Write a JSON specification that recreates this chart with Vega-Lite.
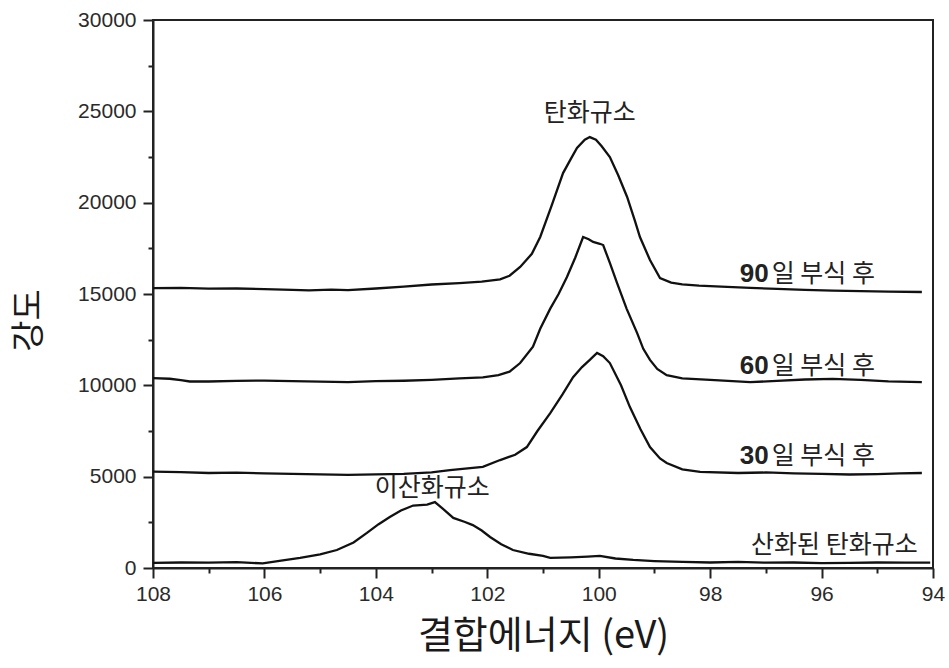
{
  "$schema": "https://vega.github.io/schema/vega-lite/v6.json",
  "width": 780,
  "height": 548,
  "padding": {"left": 153, "top": 20, "right": 16, "bottom": 100},
  "autosize": {"type": "none"},
  "background": "white",
  "config": {
    "view": {"stroke": "#222", "strokeWidth": 2},
    "axis": {
      "domainColor": "#222", "domainWidth": 2, "tickColor": "#222", "tickWidth": 2,
      "labelFont": "Liberation Sans", "labelFontSize": 21, "labelColor": "#2a2a2a",
      "grid": false, "titleFont": "Noto Sans CJK KR", "titleFontWeight": "normal", "titleColor": "#1a1a1a",
      "labelFlush": false, "labelOverlap": false, "labelBound": false
    }
  },
  "datasets": {
    "spectra": [
      {"s":"90","E":108.0,"I":15320},{"s":"90","E":107.5,"I":15330},{"s":"90","E":107.0,"I":15290},{"s":"90","E":106.5,"I":15300},{"s":"90","E":106.0,"I":15270},{"s":"90","E":105.5,"I":15230},{"s":"90","E":105.2,"I":15200},{"s":"90","E":104.8,"I":15240},{"s":"90","E":104.5,"I":15210},{"s":"90","E":104.0,"I":15300},{"s":"90","E":103.5,"I":15400},{"s":"90","E":103.0,"I":15520},{"s":"90","E":102.5,"I":15600},{"s":"90","E":102.1,"I":15680},{"s":"90","E":101.77,"I":15800},{"s":"90","E":101.6,"I":16000},{"s":"90","E":101.41,"I":16480},{"s":"90","E":101.2,"I":17200},{"s":"90","E":101.05,"I":18120},{"s":"90","E":100.85,"I":19800},{"s":"90","E":100.64,"I":21620},{"s":"90","E":100.5,"I":22400},{"s":"90","E":100.39,"I":22990},{"s":"90","E":100.25,"I":23450},{"s":"90","E":100.16,"I":23590},{"s":"90","E":100.05,"I":23450},{"s":"90","E":99.95,"I":23100},{"s":"90","E":99.8,"I":22500},{"s":"90","E":99.65,"I":21500},{"s":"90","E":99.49,"I":20310},{"s":"90","E":99.35,"I":19000},{"s":"90","E":99.26,"I":18120},{"s":"90","E":99.08,"I":16860},{"s":"90","E":98.9,"I":15870},{"s":"90","E":98.7,"I":15620},{"s":"90","E":98.5,"I":15530},{"s":"90","E":98.2,"I":15460},{"s":"90","E":97.8,"I":15400},{"s":"90","E":97.28,"I":15330},{"s":"90","E":96.8,"I":15280},{"s":"90","E":96.3,"I":15230},{"s":"90","E":95.8,"I":15190},{"s":"90","E":95.3,"I":15160},{"s":"90","E":94.8,"I":15130},{"s":"90","E":94.2,"I":15110},
      {"s":"60","E":108.0,"I":10400},{"s":"60","E":107.7,"I":10360},{"s":"60","E":107.5,"I":10280},{"s":"60","E":107.34,"I":10210},{"s":"60","E":107.0,"I":10210},{"s":"60","E":106.5,"I":10240},{"s":"60","E":106.0,"I":10260},{"s":"60","E":105.5,"I":10230},{"s":"60","E":105.0,"I":10200},{"s":"60","E":104.5,"I":10180},{"s":"60","E":104.0,"I":10230},{"s":"60","E":103.5,"I":10250},{"s":"60","E":103.0,"I":10300},{"s":"60","E":102.5,"I":10380},{"s":"60","E":102.08,"I":10440},{"s":"60","E":101.8,"I":10560},{"s":"60","E":101.6,"I":10750},{"s":"60","E":101.41,"I":11220},{"s":"60","E":101.18,"I":12110},{"s":"60","E":101.05,"I":13100},{"s":"60","E":100.87,"I":14200},{"s":"60","E":100.72,"I":15000},{"s":"60","E":100.57,"I":15930},{"s":"60","E":100.42,"I":17000},{"s":"60","E":100.28,"I":18120},{"s":"60","E":100.18,"I":18000},{"s":"60","E":100.1,"I":17850},{"s":"60","E":99.98,"I":17750},{"s":"60","E":99.92,"I":17680},{"s":"60","E":99.8,"I":16700},{"s":"60","E":99.67,"I":15600},{"s":"60","E":99.5,"I":14200},{"s":"60","E":99.31,"I":12860},{"s":"60","E":99.2,"I":12000},{"s":"60","E":99.08,"I":11390},{"s":"60","E":98.95,"I":10900},{"s":"60","E":98.78,"I":10560},{"s":"60","E":98.5,"I":10380},{"s":"60","E":98.0,"I":10300},{"s":"60","E":97.28,"I":10180},{"s":"60","E":96.8,"I":10240},{"s":"60","E":96.3,"I":10320},{"s":"60","E":95.8,"I":10350},{"s":"60","E":95.3,"I":10300},{"s":"60","E":94.8,"I":10220},{"s":"60","E":94.2,"I":10180},
      {"s":"30","E":108.0,"I":5280},{"s":"30","E":107.5,"I":5250},{"s":"30","E":107.0,"I":5200},{"s":"30","E":106.5,"I":5220},{"s":"30","E":106.0,"I":5180},{"s":"30","E":105.5,"I":5150},{"s":"30","E":105.0,"I":5120},{"s":"30","E":104.5,"I":5100},{"s":"30","E":104.0,"I":5120},{"s":"30","E":103.5,"I":5150},{"s":"30","E":103.0,"I":5230},{"s":"30","E":102.67,"I":5360},{"s":"30","E":102.08,"I":5540},{"s":"30","E":101.77,"I":5910},{"s":"30","E":101.5,"I":6200},{"s":"30","E":101.29,"I":6620},{"s":"30","E":101.1,"I":7500},{"s":"30","E":100.87,"I":8480},{"s":"30","E":100.65,"I":9500},{"s":"30","E":100.46,"I":10450},{"s":"30","E":100.3,"I":11000},{"s":"30","E":100.16,"I":11390},{"s":"30","E":100.03,"I":11770},{"s":"30","E":99.92,"I":11600},{"s":"30","E":99.8,"I":11220},{"s":"30","E":99.6,"I":10000},{"s":"30","E":99.44,"I":8810},{"s":"30","E":99.25,"I":7600},{"s":"30","E":99.08,"I":6620},{"s":"30","E":98.9,"I":6000},{"s":"30","E":98.78,"I":5750},{"s":"30","E":98.5,"I":5400},{"s":"30","E":98.18,"I":5260},{"s":"30","E":97.5,"I":5200},{"s":"30","E":97.0,"I":5230},{"s":"30","E":96.5,"I":5180},{"s":"30","E":96.0,"I":5150},{"s":"30","E":95.5,"I":5120},{"s":"30","E":95.0,"I":5140},{"s":"30","E":94.6,"I":5180},{"s":"30","E":94.2,"I":5200},
      {"s":"ox","E":108.0,"I":280},{"s":"ox","E":107.5,"I":300},{"s":"ox","E":107.0,"I":290},{"s":"ox","E":106.5,"I":320},{"s":"ox","E":106.03,"I":250},{"s":"ox","E":105.7,"I":400},{"s":"ox","E":105.36,"I":550},{"s":"ox","E":105.0,"I":750},{"s":"ox","E":104.7,"I":985},{"s":"ox","E":104.4,"I":1400},{"s":"ox","E":104.16,"I":1920},{"s":"ox","E":103.95,"I":2400},{"s":"ox","E":103.75,"I":2790},{"s":"ox","E":103.55,"I":3150},{"s":"ox","E":103.33,"I":3420},{"s":"ox","E":103.08,"I":3470},{"s":"ox","E":102.94,"I":3610},{"s":"ox","E":102.8,"I":3250},{"s":"ox","E":102.61,"I":2740},{"s":"ox","E":102.4,"I":2520},{"s":"ox","E":102.26,"I":2350},{"s":"ox","E":102.1,"I":2050},{"s":"ox","E":101.95,"I":1700},{"s":"ox","E":101.75,"I":1300},{"s":"ox","E":101.54,"I":985},{"s":"ox","E":101.25,"I":780},{"s":"ox","E":101.0,"I":660},{"s":"ox","E":100.87,"I":550},{"s":"ox","E":100.5,"I":580},{"s":"ox","E":100.2,"I":620},{"s":"ox","E":99.98,"I":660},{"s":"ox","E":99.7,"I":520},{"s":"ox","E":99.38,"I":440},{"s":"ox","E":99.0,"I":380},{"s":"ox","E":98.49,"I":330},{"s":"ox","E":98.0,"I":300},{"s":"ox","E":97.5,"I":330},{"s":"ox","E":97.0,"I":290},{"s":"ox","E":96.5,"I":300},{"s":"ox","E":96.0,"I":270},{"s":"ox","E":95.5,"I":280},{"s":"ox","E":95.0,"I":300},{"s":"ox","E":94.5,"I":290},{"s":"ox","E":94.05,"I":290}
    ],
    "labels": [
      {"E":100.16,"I":24900,"text":"탄화규소","kind":"c"},
      {"E":102.99,"I":4380,"text":"이산화규소","kind":"c"},
      {"E":95.77,"I":1260,"text":"산화된 탄화규소","kind":"c"},
      {"E":96.93,"I":16090,"text":"90","kind":"b"},
      {"E":96.93,"I":16090,"text":"일 부식 후","kind":"l"},
      {"E":96.93,"I":11060,"text":"60","kind":"b"},
      {"E":96.93,"I":11060,"text":"일 부식 후","kind":"l"},
      {"E":96.93,"I":6130,"text":"30","kind":"b"},
      {"E":96.93,"I":6130,"text":"일 부식 후","kind":"l"}
    ]
  },
  "resolve": {"axis": {"x": "independent", "y": "independent"}},
  "layer": [
    {
      "data": {"name": "spectra"},
      "mark": {"type": "line", "color": "#111", "strokeWidth": 2.3},
      "encoding": {
        "x": {"field": "E", "type": "quantitative",
          "scale": {"domain": [94, 108], "reverse": true, "nice": false, "zero": false},
          "axis": {"orient": "bottom", "values": [94, 96, 98, 100, 102, 104, 106, 108], "tickSize": 10, "labelPadding": 5,
            "title": "결합에너지 (eV)", "titleFontSize": 38, "titleY": 68, "titleBaseline": "middle"}},
        "y": {"field": "I", "type": "quantitative",
          "scale": {"domain": [0, 30000], "nice": false, "zero": false},
          "axis": {"orient": "left", "values": [0, 5000, 10000, 15000, 20000, 25000, 30000], "tickSize": 10, "labelPadding": 7, "format": "d",
            "title": "강도", "titleFontSize": 34, "titleX": -124, "titleY": 300, "titleAngle": 270, "titleAlign": "center", "titleBaseline": "middle"}},
        "detail": {"field": "s"}
      }
    },
    {
      "data": {"name": "spectra"},
      "mark": {"type": "line", "strokeOpacity": 0},
      "encoding": {
        "x": {"field": "E", "type": "quantitative",
          "scale": {"domain": [94, 108], "reverse": true, "nice": false, "zero": false},
          "axis": {"orient": "bottom", "values": [95, 97, 99, 101, 103, 105, 107], "tickSize": 5, "labels": false, "domain": false, "title": null}},
        "y": {"field": "I", "type": "quantitative",
          "scale": {"domain": [0, 30000], "nice": false, "zero": false},
          "axis": {"orient": "left", "values": [2500, 7500, 12500, 17500, 22500, 27500], "tickSize": 5, "labels": false, "domain": false, "title": null}},
        "detail": {"field": "s"}
      }
    },
    {
      "data": {"name": "labels"},
      "transform": [{"filter": "datum.kind === 'c'"}],
      "mark": {"type": "text", "font": "Noto Sans CJK KR", "fontSize": 25, "color": "#222", "align": "center", "baseline": "middle"},
      "encoding": {
        "x": {"field": "E", "type": "quantitative", "scale": {"domain": [94, 108], "reverse": true, "nice": false, "zero": false}, "axis": null},
        "y": {"field": "I", "type": "quantitative", "scale": {"domain": [0, 30000], "nice": false, "zero": false}, "axis": null},
        "text": {"field": "text"}
      }
    },
    {
      "data": {"name": "labels"},
      "transform": [{"filter": "datum.kind === 'b'"}],
      "mark": {"type": "text", "font": "Liberation Sans", "fontWeight": "bold", "fontSize": 26, "color": "#222", "align": "right", "baseline": "middle", "dx": -1},
      "encoding": {
        "x": {"field": "E", "type": "quantitative", "scale": {"domain": [94, 108], "reverse": true, "nice": false, "zero": false}, "axis": null},
        "y": {"field": "I", "type": "quantitative", "scale": {"domain": [0, 30000], "nice": false, "zero": false}, "axis": null},
        "text": {"field": "text"}
      }
    },
    {
      "data": {"name": "labels"},
      "transform": [{"filter": "datum.kind === 'l'"}],
      "mark": {"type": "text", "font": "Noto Sans CJK KR", "fontSize": 25, "color": "#222", "align": "left", "baseline": "middle", "dx": 2},
      "encoding": {
        "x": {"field": "E", "type": "quantitative", "scale": {"domain": [94, 108], "reverse": true, "nice": false, "zero": false}, "axis": null},
        "y": {"field": "I", "type": "quantitative", "scale": {"domain": [0, 30000], "nice": false, "zero": false}, "axis": null},
        "text": {"field": "text"}
      }
    }
  ]
}
